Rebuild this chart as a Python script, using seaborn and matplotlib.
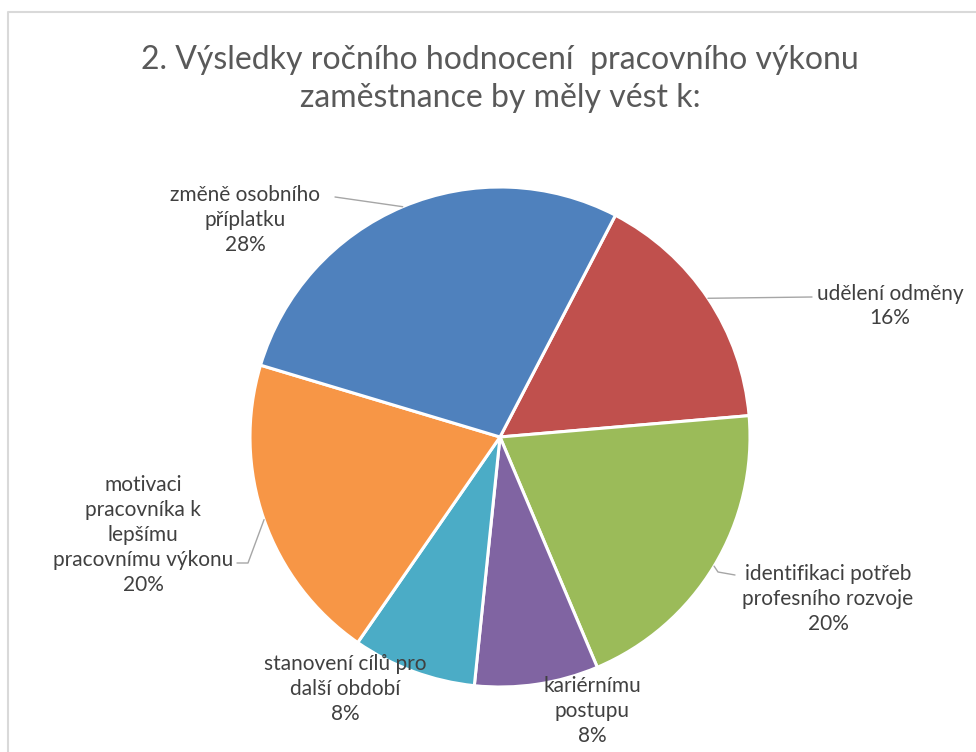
import numpy as np
import matplotlib
matplotlib.use("Agg")
import matplotlib.pyplot as plt
import seaborn as sns

# ---- data ----
categories = ["udělení odměny", "identifikaci potřeb\nprofesního rozvoje", "kariérnímu\npostupu",
              "stanovení cílů pro\ndalší období", "motivaci\npracovníka k\nlepšímu\npracovnímu výkonu",
              "změně osobního\npříplatku"]
values = [16, 20, 8, 8, 20, 28]
colors = ["#C0504D", "#9BBB59", "#8064A2", "#4BACC6", "#F79646", "#4F81BD"]
title = "2. Výsledky ročního hodnocení  pracovního výkonu\nzaměstnance by měly vést k:"

sns.set_theme(style="white")
plt.rcParams["font.family"] = ["Lato", "DejaVu Sans"]

W, H = 976, 752
fig = plt.figure(figsize=(W / 100, H / 100), dpi=100)
ax = fig.add_axes([0, 0, 1, 1])

cx, cy, R = 500, H - 437, 250
start = 62.5
ax.pie(values, colors=colors, startangle=start, counterclock=False,
       center=(cx, cy), radius=R, frame=True,
       wedgeprops=dict(edgecolor="white", linewidth=2.2))
ax.set_xlim(0, W)
ax.set_ylim(0, H)
ax.set_aspect("equal")
ax.axis("off")

# label positions (pixel coords from top), leader line text-side end points
label_pos = [(890, 306), (828, 599), (592, 711), (345, 689), (143, 535), (245, 220)]
leader_end = [(812, 297), (735, 575), None, None, (237, 563), (335, 197)]
leader_knee = [None, (718, 572), None, None, (248, 563), None]

cum = 0
for i, (lab, v) in enumerate(zip(categories, values)):
    mid = start - 360 * (cum + v / 2) / 100
    cum += v
    px, py = label_pos[i]
    ax.text(px, H - py, f"{lab}\n{v}%", ha="center", va="center", fontsize=15,
            color="#404040", linespacing=1.3)
    if leader_end[i] is not None:
        ex, ey = cx + R * np.cos(np.radians(mid)), cy + R * np.sin(np.radians(mid))
        pts = [(ex, ey)]
        if leader_knee[i] is not None:
            pts.append((leader_knee[i][0], H - leader_knee[i][1]))
        pts.append((leader_end[i][0], H - leader_end[i][1]))
        xs, ys = zip(*pts)
        ax.plot(xs, ys, color="#a6a6a6", lw=1)

ax.text(500, H - 79, title, ha="center", va="center", fontsize=23, color="#595959",
        linespacing=1.3)

# chart border
ax.plot([8, 8, W + 5], [-5, H - 12, H - 12], color="#d9d9d9", lw=1.5, clip_on=False)

fig.savefig("out.png", dpi=100)
